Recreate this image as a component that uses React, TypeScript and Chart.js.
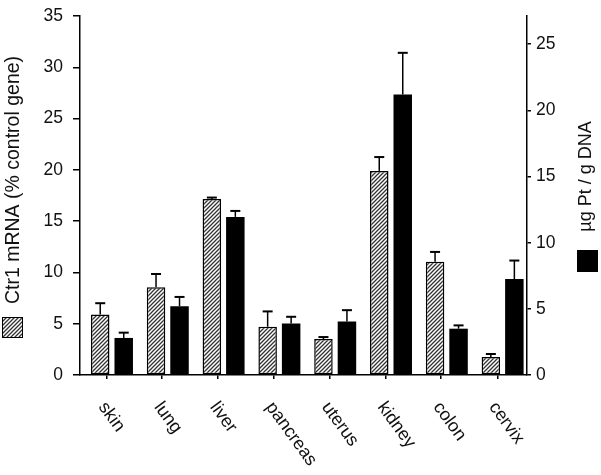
import React, { useEffect, useRef } from 'react';
import { Chart, registerables } from 'chart.js';

Chart.register(...registerables);

const categories = ['skin', 'lung', 'liver', 'pancreas', 'uterus', 'kidney', 'colon', 'cervix'];
const ctr1Values = [5.9, 8.55, 17.15, 4.7, 3.5, 19.9, 11.05, 1.75];
const ctr1Errors = [1.1, 1.3, 0.15, 1.5, 0.2, 1.35, 0.95, 0.3];
const ptValues = [2.8, 5.2, 11.95, 3.9, 4.05, 21.2, 3.5, 7.25];
const ptErrors = [0.4, 0.7, 0.45, 0.5, 0.85, 3.15, 0.25, 1.4];
const leftTicks = [0, 5, 10, 15, 20, 25, 30, 35];
const rightTicks = [0, 5, 10, 15, 20, 25];
const xBoundaryTicks = [0.4, 1.4, 2.4, 3.4, 4.4, 5.4, 6.4, 7.43];
const leftTitle = 'Ctr1 mRNA (% control gene)';
const rightTitle = 'µg Pt / g DNA';

const FONT = "'Liberation Sans', Arial, sans-serif";
const TEXT = '#111';

function makeHatch(): CanvasPattern {
  const c = document.createElement('canvas');
  c.width = 4;
  c.height = 4;
  const g = c.getContext('2d')!;
  g.fillStyle = '#fff';
  g.fillRect(0, 0, 4, 4);
  g.strokeStyle = '#333';
  g.lineWidth = 1.3;
  g.beginPath();
  g.moveTo(-1, 5);
  g.lineTo(5, -1);
  g.moveTo(-1, 1);
  g.lineTo(1, -1);
  g.moveTo(3, 5);
  g.lineTo(5, 3);
  g.stroke();
  return g.createPattern(c, 'repeat')!;
}

export default function App() {
  const ref = useRef<HTMLCanvasElement>(null);

  useEffect(() => {
    const canvas = ref.current!;
    const hatch = makeHatch();

    const overlay = {
      id: 'overlay',
      afterDatasetsDraw(chart: any) {
        const ctx = chart.ctx;
        const sets: [number, number[], number[], string][] = [
          [0, ctr1Values, ctr1Errors, 'y'],
          [1, ptValues, ptErrors, 'y1'],
        ];
        ctx.save();
        ctx.strokeStyle = '#000';
        sets.forEach(([di, vals, errs, axis]) => {
          const meta = chart.getDatasetMeta(di);
          const ys = chart.scales[axis];
          meta.data.forEach((bar: any, i: number) => {
            const x = bar.x;
            const yTop = ys.getPixelForValue(vals[i]);
            const yErr = ys.getPixelForValue(vals[i] + errs[i]);
            ctx.lineWidth = 1.5;
            ctx.beginPath();
            ctx.moveTo(x, yTop);
            ctx.lineTo(x, yErr);
            ctx.stroke();
            ctx.lineWidth = 2;
            ctx.beginPath();
            ctx.moveTo(x - 5, yErr);
            ctx.lineTo(x + 5, yErr);
            ctx.stroke();
          });
        });
        ctx.restore();
      },
      afterDraw(chart: any) {
        const ctx = chart.ctx;
        const xs = chart.scales.x;
        ctx.save();
        ctx.fillStyle = TEXT;
        // category labels
        ctx.font = `18px ${FONT}`;
        ctx.textAlign = 'left';
        ctx.textBaseline = 'middle';
        categories.forEach((c, i) => {
          const px = xs.getPixelForValue(i);
          ctx.save();
          ctx.translate(px - 10, 404);
          ctx.rotate((54 * Math.PI) / 180);
          ctx.fillText(c, 0, 0);
          ctx.restore();
        });
        // left title
        ctx.save();
        ctx.font = `19.5px ${FONT}`;
        ctx.textAlign = 'center';
        ctx.translate(14, 180);
        ctx.rotate(-Math.PI / 2);
        ctx.fillText(leftTitle, 0, 0);
        ctx.restore();
        // right title
        ctx.save();
        ctx.font = `18px ${FONT}`;
        ctx.textAlign = 'center';
        ctx.translate(586, 176.5);
        ctx.rotate(-Math.PI / 2);
        ctx.fillText(rightTitle, 0, 0);
        ctx.restore();
        // swatches
        ctx.fillStyle = hatch;
        ctx.fillRect(2, 317, 21, 21);
        ctx.strokeStyle = '#000';
        ctx.lineWidth = 1;
        ctx.strokeRect(2.5, 317.5, 20, 20);
        ctx.fillStyle = '#000';
        ctx.fillRect(577, 250, 21, 22);
        ctx.restore();
      },
    };

    const chart = new Chart(canvas, {
      type: 'bar',
      data: {
        datasets: [
          {
            label: leftTitle,
            data: ctr1Values.map((v, i) => ({ x: i, y: v })),
            yAxisID: 'y',
            backgroundColor: hatch,
            borderColor: '#000',
            borderWidth: 1.5,
            borderSkipped: false,
          },
          {
            label: rightTitle,
            data: ptValues.map((v, i) => ({ x: i, y: v })),
            yAxisID: 'y1',
            backgroundColor: '#000',
            borderColor: '#000',
            borderWidth: 0,
          },
        ],
      } as any,
      options: {
        animation: false,
        responsive: false,
        devicePixelRatio: 1,
        categoryPercentage: 0.842,
        barPercentage: 0.787,
        layout: { padding: 0 },
        plugins: { legend: { display: false }, tooltip: { enabled: false } },
        scales: {
          x: {
            type: 'linear',
            min: -0.573,
            max: 7.437,
            offset: false,
            afterBuildTicks: (s: any) => {
              s.ticks = xBoundaryTicks.map((v) => ({ value: v }));
            },
            afterFit: (s: any) => {
              s.height = 100;
            },
            ticks: { display: false },
            grid: { drawOnChartArea: false, drawTicks: true, tickLength: 4, color: '#000', lineWidth: 1.5 },
            border: { display: true, color: '#000', width: 1.5 },
          },
          y: {
            type: 'linear',
            position: 'left',
            min: 0,
            max: 35,
            afterBuildTicks: (s: any) => {
              s.ticks = leftTicks.map((v) => ({ value: v }));
            },
            afterFit: (s: any) => {
              s.width = 80;
            },
            ticks: { font: { family: FONT, size: 17.5, lineHeight: 0.69 }, color: TEXT, padding: 10 },
            grid: { drawOnChartArea: false, drawTicks: true, tickLength: 7, color: '#000', lineWidth: 1.5 },
            border: { display: true, color: '#000', width: 1.5 },
          },
          y1: {
            type: 'linear',
            position: 'right',
            min: 0,
            max: 27.13,
            afterBuildTicks: (s: any) => {
              s.ticks = rightTicks.map((v) => ({ value: v }));
            },
            afterFit: (s: any) => {
              s.width = 74;
            },
            ticks: { font: { family: FONT, size: 17.5, lineHeight: 0.69 }, color: TEXT, padding: 5 },
            grid: { drawOnChartArea: false, drawTicks: true, tickLength: 4, color: '#000', lineWidth: 1.5 },
            border: { display: true, color: '#000', width: 1.5 },
          },
        },
      } as any,
      plugins: [overlay],
    });

    return () => chart.destroy();
  }, []);

  return (
    <div style={{ position: 'fixed', left: 0, top: 0, width: 601, height: 475, background: '#fff' }}>
      <canvas ref={ref} width={601} height={475} style={{ display: 'block', width: 601, height: 475 }} />
    </div>
  );
}
